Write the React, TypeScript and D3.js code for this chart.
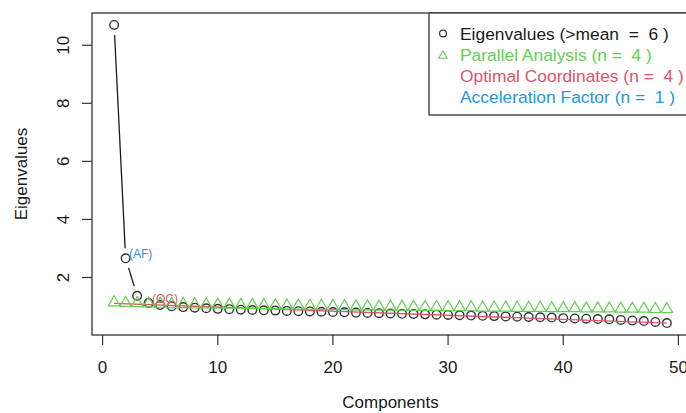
import React, {useEffect, useRef} from 'react';
import * as d3 from 'd3';

// eigenvalues of the 49 components
const eigenvalues = [10.70, 2.66, 1.37, 1.12, 1.05, 1.01, 0.98, 0.96, 0.94, 0.92,
    0.91, 0.89, 0.88, 0.87, 0.86, 0.85, 0.84, 0.83, 0.82, 0.81,
    0.80, 0.79, 0.78, 0.77, 0.76, 0.75, 0.74, 0.73, 0.72, 0.71,
    0.70, 0.69, 0.68, 0.67, 0.66, 0.65, 0.64, 0.63, 0.62, 0.60,
    0.59, 0.58, 0.57, 0.56, 0.54, 0.52, 0.50, 0.47, 0.43]

// parallel analysis (random data eigenvalues)
const parallel = [1.14, 1.12, 1.11, 1.10, 1.09, 1.08, 1.08, 1.07, 1.07, 1.06,
    1.06, 1.05, 1.05, 1.04, 1.04, 1.03, 1.03, 1.02, 1.02, 1.01,
    1.01, 1.00, 1.00, 0.99, 0.99, 0.99, 0.98, 0.98, 0.98, 0.97,
    0.97, 0.97, 0.96, 0.96, 0.96, 0.95, 0.95, 0.95, 0.94, 0.94,
    0.94, 0.93, 0.93, 0.93, 0.92, 0.92, 0.92, 0.91, 0.91]

const xTicks = [0, 10, 20, 30, 40, 50]
const yTicks = [2, 4, 6, 8, 10]

const nKaiser = 6
const nParallel = 4
const nOC = 4
const nAF = 1

const legendLabels = [
    `Eigenvalues (>mean  =  ${nKaiser} )`,
    `Parallel Analysis (n =  ${nParallel} )`,
    `Optimal Coordinates (n =  ${nOC} )`,
    `Acceleration Factor (n =  ${nAF} )`
]

const black = '#1a1a1a'
const red = '#DF536B'
const green = '#61D04F'
const blue = '#2297E6'
const font = '"Liberation Sans", Arial, Helvetica, sans-serif'

const App = () => {

    const svgRef = useRef(null);

    let dimensions = {
        width: 686,
        height: 413,
        box: {left: 92, top: 13, right: 689, bottom: 335}
    }

    useEffect(() => {

        const svg = d3.select(svgRef.current)
        svg.selectAll('*').remove()

        const comps = eigenvalues.map((d, i) => i + 1)
        const box = dimensions.box

        // R style 4% padding on both ends
        const xExt = d3.extent(comps)
        const xPad = (xExt[1] - xExt[0]) * 0.04
        const yExt = d3.extent(eigenvalues)
        const yPad = (yExt[1] - yExt[0]) * 0.04

        const xScale = d3.scaleLinear()
            .domain([xExt[0] - xPad, xExt[1] + xPad])
            .range([box.left, box.right])

        const yScale = d3.scaleLinear()
            .domain([yExt[0] - yPad, yExt[1] + yPad])
            .range([box.bottom, box.top])

        const pts = comps.map((c, i) => [xScale(c), yScale(eigenvalues[i])])

        // type = "b" : segments with a gap round each point
        const gap = 10
        const gapSegs = (p) => {
            const segs = []
            for (let i = 0; i < p.length - 1; i++) {
                const dx = p[i + 1][0] - p[i][0]
                const dy = p[i + 1][1] - p[i][1]
                const len = Math.sqrt(dx * dx + dy * dy)
                if (len > 2 * gap) {
                    segs.push([p[i][0] + dx / len * gap, p[i][1] + dy / len * gap,
                        p[i + 1][0] - dx / len * gap, p[i + 1][1] - dy / len * gap])
                }
            }
            return segs
        }

        svg.append('g').selectAll('line')
            .data(gapSegs(pts))
            .join('line')
            .attr('x1', d => d[0]).attr('y1', d => d[1])
            .attr('x2', d => d[2]).attr('y2', d => d[3])
            .attr('stroke', black)
            .attr('stroke-width', 1.3)

        const r = 4.3
        svg.append('g').selectAll('circle')
            .data(pts)
            .join('circle')
            .attr('cx', d => d[0])
            .attr('cy', d => d[1])
            .attr('r', r)
            .attr('fill', 'none')
            .attr('stroke', '#333')
            .attr('stroke-width', 1.4)

        // optimal coordinates line through eig[noc+1] and the last eigenvalue
        const n = eigenvalues.length
        const slope = (eigenvalues[n - 1] - eigenvalues[nOC]) / (n - (nOC + 1))
        const icpt = eigenvalues[n - 1] - slope * n
        svg.append('line')
            .attr('x1', xScale(1)).attr('y1', yScale(icpt + slope * 1))
            .attr('x2', xScale(n)).attr('y2', yScale(icpt + slope * n))
            .attr('stroke', red)
            .attr('stroke-width', 1.3)

        // parallel analysis triangles (pch = 2)
        const tri = (x, y, s) => {
            const top = 1.555 * s, half = 1.347 * s, base = 0.778 * s
            return `M${x},${y - top}L${x + half},${y + base}L${x - half},${y + base}Z`
        }
        const paPts = comps.map((c, i) => [xScale(c), yScale(parallel[i])])
        svg.append('g').selectAll('line')
            .data(gapSegs(paPts))
            .join('line')
            .attr('x1', d => d[0]).attr('y1', d => d[1])
            .attr('x2', d => d[2]).attr('y2', d => d[3])
            .attr('stroke', green)
        svg.append('g').selectAll('path')
            .data(paPts)
            .join('path')
            .attr('d', d => tri(d[0], d[1], r))
            .attr('fill', 'none')
            .attr('stroke', green)
            .attr('stroke-width', 1.2)

        // box
        svg.append('rect')
            .attr('x', box.left).attr('y', box.top)
            .attr('width', box.right - box.left)
            .attr('height', box.bottom - box.top)
            .attr('fill', 'none')
            .attr('stroke', '#333')
            .attr('stroke-width', 1.3)

        // x axis
        const xAxis = svg.append('g')
        xAxis.selectAll('line')
            .data(xTicks)
            .join('line')
            .attr('x1', d => xScale(d)).attr('x2', d => xScale(d))
            .attr('y1', box.bottom).attr('y2', box.bottom + 10)
            .attr('stroke', '#333')
            .attr('stroke-width', 1.2)
        xAxis.selectAll('text')
            .data(xTicks)
            .join('text')
            .attr('x', d => xScale(d))
            .attr('y', 373)
            .attr('text-anchor', 'middle')
            .attr('font-family', font)
            .attr('font-size', 17)
            .attr('fill', black)
            .text(d => d)

        // y axis
        const yAxis = svg.append('g')
        yAxis.selectAll('line')
            .data(yTicks)
            .join('line')
            .attr('x1', box.left).attr('x2', box.left - 10)
            .attr('y1', d => yScale(d)).attr('y2', d => yScale(d))
            .attr('stroke', '#333')
            .attr('stroke-width', 1.2)
        yAxis.selectAll('text')
            .data(yTicks)
            .join('text')
            .attr('transform', d => `translate(69,${yScale(d)}) rotate(-90)`)
            .attr('text-anchor', 'middle')
            .attr('font-family', font)
            .attr('font-size', 17)
            .attr('fill', black)
            .text(d => d)

        svg.append('text')
            .attr('x', (box.left + box.right) / 2)
            .attr('y', 408)
            .attr('text-anchor', 'middle')
            .attr('font-family', font)
            .attr('font-size', 17)
            .attr('fill', black)
            .text('Components')

        svg.append('text')
            .attr('transform', `translate(27,${(box.top + box.bottom) / 2}) rotate(-90)`)
            .attr('text-anchor', 'middle')
            .attr('font-family', font)
            .attr('font-size', 17)
            .attr('fill', black)
            .text('Eigenvalues')

        // legend, top right
        const legend = svg.append('g')
        legend.append('rect')
            .attr('x', 429).attr('y', box.top)
            .attr('width', box.right - 429)
            .attr('height', 102)
            .attr('fill', 'white')
            .attr('stroke', '#333')
            .attr('stroke-width', 1.3)
        const legColors = [black, green, red, blue]
        const rowY = i => 33.5 + i * 21.3
        legend.selectAll('text')
            .data(legendLabels)
            .join('text')
            .attr('x', 460)
            .attr('y', (d, i) => rowY(i))
            .attr('dy', '0.35em')
            .attr('font-family', font)
            .attr('font-size', 17.4)
            .attr('fill', (d, i) => legColors[i])
            .style('white-space', 'pre')
            .text(d => d)
        legend.append('circle')
            .attr('cx', 443).attr('cy', rowY(0))
            .attr('r', 3.4)
            .attr('fill', 'none')
            .attr('stroke', '#333')
            .attr('stroke-width', 1.2)
        legend.append('path')
            .attr('d', tri(443, rowY(1) + 1, 3.2))
            .attr('fill', 'none')
            .attr('stroke', green)
            .attr('stroke-width', 1.1)

        // (OC) and (AF) labels, left-bottom adjusted
        svg.append('text')
            .attr('x', xScale(nOC)).attr('y', yScale(eigenvalues[nOC - 1]))
            .attr('font-family', font)
            .attr('font-size', 12)
            .attr('fill', red)
            .style('white-space', 'pre')
            .text(' (OC)')
        svg.append('text')
            .attr('x', xScale(nAF + 1)).attr('y', yScale(eigenvalues[nAF]))
            .attr('font-family', font)
            .attr('font-size', 12)
            .attr('fill', blue)
            .style('white-space', 'pre')
            .text(' (AF)')

    }, [])

    return (
        <svg ref={svgRef} width={dimensions.width} height={dimensions.height}
            style={{position: 'absolute', left: 0, top: 0, background: 'white'}} />
    );
}

export default App;
